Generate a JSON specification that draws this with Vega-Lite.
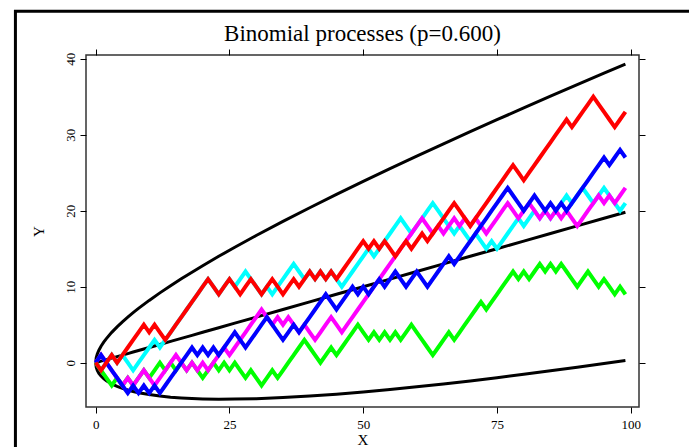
{
"$schema": "https://vega.github.io/schema/vega-lite/v6.json",
"width": 553, "height": 352,
"autosize": {"type": "none"},
"padding": {"left": 86, "top": 55, "right": 50, "bottom": 40},
"background": "white",
"title": {"text": "Binomial processes (p=0.600)", "anchor": "middle", "frame": "group", "offset": -54, "baseline": "alphabetic", "font": "Liberation Serif", "fontSize": 23, "fontWeight": "normal", "color": "black"},
"config": {"view": {"stroke": "#333333", "strokeWidth": 1.5}, "axis": {"grid": false, "domain": false}},
"datasets": {
"env": [
{"x":0,"u":0,"l":0,"m":0},{"x":0.1,"u":0.6397,"l":-0.5997,"m":0.02},{"x":0.3,"u":1.1333,"l":-1.0133,"m":0.06},{"x":0.6,"u":1.6379,"l":-1.3979,"m":0.12},{"x":1,"u":2.1596,"l":-1.7596,"m":0.2},{"x":1.5,"u":2.7,"l":-2.1,"m":0.3},{"x":2,"u":3.1713,"l":-2.3713,"m":0.4},{"x":3,"u":3.9941,"l":-2.7941,"m":0.6},{"x":4,"u":4.7192,"l":-3.1192,"m":0.8},{"x":5,"u":5.3818,"l":-3.3818,"m":1},{"x":6,"u":6.0,"l":-3.6,"m":1.2},{"x":7,"u":6.5846,"l":-3.7846,"m":1.4},{"x":8,"u":7.1426,"l":-3.9426,"m":1.6},{"x":10,"u":8.1968,"l":-4.1968,"m":2},{"x":12,"u":9.1882,"l":-4.3882,"m":2.4},{"x":14,"u":10.1321,"l":-4.5321,"m":2.8},{"x":16,"u":11.0384,"l":-4.6384,"m":3.2},{"x":18,"u":11.9138,"l":-4.7138,"m":3.6},{"x":20,"u":12.7636,"l":-4.7636,"m":4},{"x":23,"u":13.9979,"l":-4.7979,"m":4.6},{"x":26,"u":15.192,"l":-4.792,"m":5.2},{"x":30,"u":16.7331,"l":-4.7331,"m":6},{"x":35,"u":18.5931,"l":-4.5931,"m":7},{"x":40,"u":20.3935,"l":-4.3935,"m":8},{"x":45,"u":22.1453,"l":-4.1453,"m":9},{"x":50,"u":23.8564,"l":-3.8564,"m":10},{"x":55,"u":25.5327,"l":-3.5327,"m":11},{"x":60,"u":27.1789,"l":-3.1789,"m":12},{"x":65,"u":28.7987,"l":-2.7987,"m":13},{"x":70,"u":30.3951,"l":-2.3951,"m":14},{"x":75,"u":31.9706,"l":-1.9706,"m":15},{"x":80,"u":33.5271,"l":-1.5271,"m":16},{"x":85,"u":35.0665,"l":-1.0665,"m":17},{"x":90,"u":36.5903,"l":-0.5903,"m":18},{"x":95,"u":38.0997,"l":-0.0997,"m":19},{"x":99,"u":39.2977,"l":0.3023,"m":19.8}
],
"red": [
{"x":0,"y":0},{"x":1,"y":-1},{"x":2,"y":0},{"x":3,"y":1},{"x":4,"y":0},{"x":5,"y":1},{"x":6,"y":2},{"x":7,"y":3},{"x":8,"y":4},{"x":9,"y":5},
{"x":10,"y":4},{"x":11,"y":5},{"x":12,"y":4},{"x":13,"y":3},{"x":14,"y":4},{"x":15,"y":5},{"x":16,"y":6},{"x":17,"y":7},{"x":18,"y":8},{"x":19,"y":9},
{"x":20,"y":10},{"x":21,"y":11},{"x":22,"y":10},{"x":23,"y":9},{"x":24,"y":10},{"x":25,"y":11},{"x":26,"y":10},{"x":27,"y":9},{"x":28,"y":10},{"x":29,"y":11},
{"x":30,"y":10},{"x":31,"y":9},{"x":32,"y":10},{"x":33,"y":11},{"x":34,"y":10},{"x":35,"y":9},{"x":36,"y":10},{"x":37,"y":11},{"x":38,"y":10},{"x":39,"y":11},
{"x":40,"y":12},{"x":41,"y":11},{"x":42,"y":12},{"x":43,"y":11},{"x":44,"y":12},{"x":45,"y":11},{"x":46,"y":12},{"x":47,"y":13},{"x":48,"y":14},{"x":49,"y":15},
{"x":50,"y":16},{"x":51,"y":15},{"x":52,"y":16},{"x":53,"y":15},{"x":54,"y":16},{"x":55,"y":15},{"x":56,"y":14},{"x":57,"y":15},{"x":58,"y":16},{"x":59,"y":15},
{"x":60,"y":16},{"x":61,"y":17},{"x":62,"y":16},{"x":63,"y":17},{"x":64,"y":18},{"x":65,"y":19},{"x":66,"y":20},{"x":67,"y":21},{"x":68,"y":20},{"x":69,"y":19},
{"x":70,"y":18},{"x":71,"y":19},{"x":72,"y":20},{"x":73,"y":21},{"x":74,"y":22},{"x":75,"y":23},{"x":76,"y":24},{"x":77,"y":25},{"x":78,"y":26},{"x":79,"y":25},
{"x":80,"y":24},{"x":81,"y":25},{"x":82,"y":26},{"x":83,"y":27},{"x":84,"y":28},{"x":85,"y":29},{"x":86,"y":30},{"x":87,"y":31},{"x":88,"y":32},{"x":89,"y":31},
{"x":90,"y":32},{"x":91,"y":33},{"x":92,"y":34},{"x":93,"y":35},{"x":94,"y":34},{"x":95,"y":33},{"x":96,"y":32},{"x":97,"y":31},{"x":98,"y":32},{"x":99,"y":33}
],
"blue": [
{"x":0,"y":0},{"x":1,"y":1},{"x":2,"y":0},{"x":3,"y":-1},{"x":4,"y":-2},{"x":5,"y":-3},{"x":6,"y":-4},{"x":7,"y":-3},{"x":8,"y":-4},{"x":9,"y":-3},
{"x":10,"y":-4},{"x":11,"y":-3},{"x":12,"y":-4},{"x":13,"y":-3},{"x":14,"y":-2},{"x":15,"y":-1},{"x":16,"y":0},{"x":17,"y":1},{"x":18,"y":2},{"x":19,"y":1},
{"x":20,"y":2},{"x":21,"y":1},{"x":22,"y":2},{"x":23,"y":1},{"x":24,"y":2},{"x":25,"y":3},{"x":26,"y":4},{"x":27,"y":3},{"x":28,"y":2},{"x":29,"y":3},
{"x":30,"y":4},{"x":31,"y":5},{"x":32,"y":6},{"x":33,"y":5},{"x":34,"y":4},{"x":35,"y":3},{"x":36,"y":4},{"x":37,"y":5},{"x":38,"y":4},{"x":39,"y":5},
{"x":40,"y":6},{"x":41,"y":7},{"x":42,"y":8},{"x":43,"y":9},{"x":44,"y":8},{"x":45,"y":7},{"x":46,"y":8},{"x":47,"y":9},{"x":48,"y":10},{"x":49,"y":9},
{"x":50,"y":10},{"x":51,"y":9},{"x":52,"y":10},{"x":53,"y":11},{"x":54,"y":10},{"x":55,"y":11},{"x":56,"y":12},{"x":57,"y":11},{"x":58,"y":10},{"x":59,"y":11},
{"x":60,"y":12},{"x":61,"y":11},{"x":62,"y":10},{"x":63,"y":11},{"x":64,"y":12},{"x":65,"y":13},{"x":66,"y":14},{"x":67,"y":13},{"x":68,"y":14},{"x":69,"y":15},
{"x":70,"y":16},{"x":71,"y":17},{"x":72,"y":18},{"x":73,"y":19},{"x":74,"y":20},{"x":75,"y":21},{"x":76,"y":22},{"x":77,"y":23},{"x":78,"y":22},{"x":79,"y":21},
{"x":80,"y":20},{"x":81,"y":21},{"x":82,"y":22},{"x":83,"y":21},{"x":84,"y":20},{"x":85,"y":21},{"x":86,"y":20},{"x":87,"y":21},{"x":88,"y":20},{"x":89,"y":21},
{"x":90,"y":22},{"x":91,"y":23},{"x":92,"y":24},{"x":93,"y":25},{"x":94,"y":26},{"x":95,"y":27},{"x":96,"y":26},{"x":97,"y":27},{"x":98,"y":28},{"x":99,"y":27}
],
"cyan": [
{"x":0,"y":0},{"x":1,"y":-1},{"x":2,"y":0},{"x":3,"y":1},{"x":4,"y":0},{"x":5,"y":1},{"x":6,"y":0},{"x":7,"y":-1},{"x":8,"y":0},{"x":9,"y":1},
{"x":10,"y":2},{"x":11,"y":3},{"x":12,"y":2},{"x":13,"y":3},{"x":14,"y":4},{"x":15,"y":5},{"x":16,"y":6},{"x":17,"y":7},{"x":18,"y":8},{"x":19,"y":9},
{"x":20,"y":10},{"x":21,"y":11},{"x":22,"y":10},{"x":23,"y":9},{"x":24,"y":10},{"x":25,"y":11},{"x":26,"y":10},{"x":27,"y":11},{"x":28,"y":12},{"x":29,"y":11},
{"x":30,"y":10},{"x":31,"y":9},{"x":32,"y":10},{"x":33,"y":9},{"x":34,"y":10},{"x":35,"y":11},{"x":36,"y":12},{"x":37,"y":13},{"x":38,"y":12},{"x":39,"y":11},
{"x":40,"y":12},{"x":41,"y":11},{"x":42,"y":12},{"x":43,"y":11},{"x":44,"y":12},{"x":45,"y":11},{"x":46,"y":10},{"x":47,"y":11},{"x":48,"y":12},{"x":49,"y":13},
{"x":50,"y":14},{"x":51,"y":15},{"x":52,"y":14},{"x":53,"y":15},{"x":54,"y":16},{"x":55,"y":17},{"x":56,"y":18},{"x":57,"y":19},{"x":58,"y":18},{"x":59,"y":17},
{"x":60,"y":18},{"x":61,"y":19},{"x":62,"y":20},{"x":63,"y":21},{"x":64,"y":20},{"x":65,"y":19},{"x":66,"y":18},{"x":67,"y":17},{"x":68,"y":18},{"x":69,"y":17},
{"x":70,"y":16},{"x":71,"y":17},{"x":72,"y":16},{"x":73,"y":15},{"x":74,"y":16},{"x":75,"y":15},{"x":76,"y":16},{"x":77,"y":17},{"x":78,"y":18},{"x":79,"y":19},
{"x":80,"y":18},{"x":81,"y":19},{"x":82,"y":20},{"x":83,"y":19},{"x":84,"y":20},{"x":85,"y":19},{"x":86,"y":20},{"x":87,"y":21},{"x":88,"y":22},{"x":89,"y":21},
{"x":90,"y":22},{"x":91,"y":23},{"x":92,"y":22},{"x":93,"y":21},{"x":94,"y":22},{"x":95,"y":23},{"x":96,"y":22},{"x":97,"y":21},{"x":98,"y":20},{"x":99,"y":21}
],
"magenta": [
{"x":0,"y":0},{"x":1,"y":1},{"x":2,"y":0},{"x":3,"y":-1},{"x":4,"y":-2},{"x":5,"y":-3},{"x":6,"y":-2},{"x":7,"y":-3},{"x":8,"y":-2},{"x":9,"y":-1},
{"x":10,"y":-2},{"x":11,"y":-3},{"x":12,"y":-2},{"x":13,"y":-1},{"x":14,"y":0},{"x":15,"y":1},{"x":16,"y":0},{"x":17,"y":-1},{"x":18,"y":0},{"x":19,"y":-1},
{"x":20,"y":0},{"x":21,"y":-1},{"x":22,"y":0},{"x":23,"y":1},{"x":24,"y":2},{"x":25,"y":1},{"x":26,"y":2},{"x":27,"y":3},{"x":28,"y":4},{"x":29,"y":5},
{"x":30,"y":6},{"x":31,"y":7},{"x":32,"y":6},{"x":33,"y":5},{"x":34,"y":6},{"x":35,"y":5},{"x":36,"y":6},{"x":37,"y":5},{"x":38,"y":4},{"x":39,"y":5},
{"x":40,"y":4},{"x":41,"y":3},{"x":42,"y":4},{"x":43,"y":5},{"x":44,"y":6},{"x":45,"y":5},{"x":46,"y":4},{"x":47,"y":5},{"x":48,"y":6},{"x":49,"y":7},
{"x":50,"y":8},{"x":51,"y":9},{"x":52,"y":10},{"x":53,"y":11},{"x":54,"y":12},{"x":55,"y":13},{"x":56,"y":14},{"x":57,"y":15},{"x":58,"y":16},{"x":59,"y":17},
{"x":60,"y":18},{"x":61,"y":19},{"x":62,"y":18},{"x":63,"y":17},{"x":64,"y":18},{"x":65,"y":17},{"x":66,"y":18},{"x":67,"y":19},{"x":68,"y":18},{"x":69,"y":19},
{"x":70,"y":18},{"x":71,"y":19},{"x":72,"y":18},{"x":73,"y":17},{"x":74,"y":18},{"x":75,"y":19},{"x":76,"y":20},{"x":77,"y":21},{"x":78,"y":20},{"x":79,"y":19},
{"x":80,"y":20},{"x":81,"y":21},{"x":82,"y":20},{"x":83,"y":19},{"x":84,"y":20},{"x":85,"y":19},{"x":86,"y":20},{"x":87,"y":19},{"x":88,"y":20},{"x":89,"y":19},
{"x":90,"y":18},{"x":91,"y":19},{"x":92,"y":20},{"x":93,"y":21},{"x":94,"y":22},{"x":95,"y":21},{"x":96,"y":22},{"x":97,"y":21},{"x":98,"y":22},{"x":99,"y":23}
],
"green": [
{"x":0,"y":0},{"x":1,"y":-1},{"x":2,"y":-2},{"x":3,"y":-3},{"x":4,"y":-2},{"x":5,"y":-3},{"x":6,"y":-2},{"x":7,"y":-3},{"x":8,"y":-2},{"x":9,"y":-1},
{"x":10,"y":-2},{"x":11,"y":-1},{"x":12,"y":0},{"x":13,"y":-1},{"x":14,"y":0},{"x":15,"y":-1},{"x":16,"y":0},{"x":17,"y":-1},{"x":18,"y":0},{"x":19,"y":-1},
{"x":20,"y":-2},{"x":21,"y":-1},{"x":22,"y":0},{"x":23,"y":-1},{"x":24,"y":0},{"x":25,"y":-1},{"x":26,"y":0},{"x":27,"y":-1},{"x":28,"y":-2},{"x":29,"y":-1},
{"x":30,"y":-2},{"x":31,"y":-3},{"x":32,"y":-2},{"x":33,"y":-1},{"x":34,"y":-2},{"x":35,"y":-1},{"x":36,"y":0},{"x":37,"y":1},{"x":38,"y":2},{"x":39,"y":3},
{"x":40,"y":2},{"x":41,"y":1},{"x":42,"y":0},{"x":43,"y":1},{"x":44,"y":2},{"x":45,"y":1},{"x":46,"y":2},{"x":47,"y":3},{"x":48,"y":4},{"x":49,"y":5},
{"x":50,"y":4},{"x":51,"y":3},{"x":52,"y":4},{"x":53,"y":3},{"x":54,"y":4},{"x":55,"y":3},{"x":56,"y":4},{"x":57,"y":3},{"x":58,"y":4},{"x":59,"y":5},
{"x":60,"y":4},{"x":61,"y":3},{"x":62,"y":2},{"x":63,"y":1},{"x":64,"y":2},{"x":65,"y":3},{"x":66,"y":4},{"x":67,"y":3},{"x":68,"y":4},{"x":69,"y":5},
{"x":70,"y":6},{"x":71,"y":7},{"x":72,"y":8},{"x":73,"y":7},{"x":74,"y":8},{"x":75,"y":9},{"x":76,"y":10},{"x":77,"y":11},{"x":78,"y":12},{"x":79,"y":11},
{"x":80,"y":12},{"x":81,"y":11},{"x":82,"y":12},{"x":83,"y":13},{"x":84,"y":12},{"x":85,"y":13},{"x":86,"y":12},{"x":87,"y":13},{"x":88,"y":12},{"x":89,"y":11},
{"x":90,"y":10},{"x":91,"y":11},{"x":92,"y":12},{"x":93,"y":11},{"x":94,"y":10},{"x":95,"y":11},{"x":96,"y":10},{"x":97,"y":9},{"x":98,"y":10},{"x":99,"y":9}
]
},
"layer": [
{"data": {"values": [{}]},
 "mark": {"type": "rect", "fill": null, "fillOpacity": 0, "stroke": "black", "strokeWidth": 3, "clip": false},
 "encoding": {
  "x": {"datum": -15.0, "type": "quantitative", "scale": {"domain": [-1.81, 101.54], "nice": false, "zero": false}, "axis": null},
  "x2": {"datum": 125},
  "y": {"datum": 46.24, "type": "quantitative", "scale": {"domain": [-5.83, 40.49], "nice": false, "zero": false}, "axis": null},
  "y2": {"datum": -25}}},
{"data": {"name": "env"},
 "mark": {"type": "line", "color": "black", "strokeWidth": 3},
 "encoding": {
  "x": {"field": "x", "type": "quantitative", "scale": {"domain": [-1.81, 101.54], "nice": false, "zero": false},
        "axis": {"orient": "bottom", "values": [0, 25, 50, 75, 100], "title": "X", "labelFont": "Liberation Serif", "labelFontSize": 13, "labelColor": "black", "labelPadding": 5, "tickSize": 6, "tickColor": "black", "tickWidth": 1, "domain": false, "grid": false, "titleFont": "Liberation Serif", "titleFontSize": 15, "titleFontWeight": "normal", "titleColor": "black", "titleY": 37, "titleBaseline": "alphabetic"}},
  "y": {"field": "u", "type": "quantitative", "scale": {"domain": [-5.83, 40.49], "nice": false, "zero": false},
        "axis": {"orient": "left", "values": [0, 10, 20, 30, 40], "title": "Y", "labelFont": "Liberation Serif", "labelFontSize": 13, "labelColor": "black", "labelAngle": -90, "labelAlign": "center", "labelBaseline": "bottom", "labelPadding": 3, "tickSize": 6, "tickColor": "black", "tickWidth": 1, "domain": false, "grid": false, "titleFont": "Liberation Serif", "titleFontSize": 15, "titleFontWeight": "normal", "titleColor": "black", "titleAngle": -90, "titleX": -48, "titleY": 176, "titleBaseline": "middle", "titleAlign": "center"}}}},
{"data": {"name": "env"},
 "mark": {"type": "line", "color": "black", "strokeWidth": 3},
 "encoding": {
  "x": {"field": "x", "type": "quantitative", "scale": {"domain": [-1.81, 101.54], "nice": false, "zero": false}, "axis": null},
  "y": {"field": "l", "type": "quantitative", "scale": {"domain": [-5.83, 40.49], "nice": false, "zero": false}, "axis": null}}},
{"data": {"name": "env"},
 "mark": {"type": "line", "color": "black", "strokeWidth": 3},
 "encoding": {
  "x": {"field": "x", "type": "quantitative", "scale": {"domain": [-1.81, 101.54], "nice": false, "zero": false}, "axis": null},
  "y": {"field": "m", "type": "quantitative", "scale": {"domain": [-5.83, 40.49], "nice": false, "zero": false}, "axis": null}}},
{"data": {"name": "cyan"},
 "mark": {"type": "line", "color": "#00ffff", "strokeWidth": 4},
 "encoding": {
  "x": {"field": "x", "type": "quantitative", "scale": {"domain": [-1.81, 101.54], "nice": false, "zero": false}, "axis": null},
  "y": {"field": "y", "type": "quantitative", "scale": {"domain": [-5.83, 40.49], "nice": false, "zero": false}, "axis": null}}},
{"data": {"name": "green"},
 "mark": {"type": "line", "color": "#00ff00", "strokeWidth": 4},
 "encoding": {
  "x": {"field": "x", "type": "quantitative", "scale": {"domain": [-1.81, 101.54], "nice": false, "zero": false}, "axis": null},
  "y": {"field": "y", "type": "quantitative", "scale": {"domain": [-5.83, 40.49], "nice": false, "zero": false}, "axis": null}}},
{"data": {"name": "magenta"},
 "mark": {"type": "line", "color": "#ff00ff", "strokeWidth": 4},
 "encoding": {
  "x": {"field": "x", "type": "quantitative", "scale": {"domain": [-1.81, 101.54], "nice": false, "zero": false}, "axis": null},
  "y": {"field": "y", "type": "quantitative", "scale": {"domain": [-5.83, 40.49], "nice": false, "zero": false}, "axis": null}}},
{"data": {"name": "blue"},
 "mark": {"type": "line", "color": "#0000ff", "strokeWidth": 4},
 "encoding": {
  "x": {"field": "x", "type": "quantitative", "scale": {"domain": [-1.81, 101.54], "nice": false, "zero": false}, "axis": null},
  "y": {"field": "y", "type": "quantitative", "scale": {"domain": [-5.83, 40.49], "nice": false, "zero": false}, "axis": null}}},
{"data": {"name": "red"},
 "mark": {"type": "line", "color": "#ff0000", "strokeWidth": 4},
 "encoding": {
  "x": {"field": "x", "type": "quantitative", "scale": {"domain": [-1.81, 101.54], "nice": false, "zero": false}, "axis": null},
  "y": {"field": "y", "type": "quantitative", "scale": {"domain": [-5.83, 40.49], "nice": false, "zero": false}, "axis": null}}},
{"data": {"name": "env"},
 "mark": {"type": "line", "opacity": 0},
 "encoding": {
  "x": {"field": "x", "type": "quantitative", "scale": {"domain": [-1.81, 101.54], "nice": false, "zero": false},
        "axis": {"orient": "top", "values": [0, 25, 50, 75, 100], "labels": false, "title": null, "tickSize": 6, "tickColor": "black", "tickWidth": 1, "domain": false, "grid": false}},
  "y": {"field": "m", "type": "quantitative", "scale": {"domain": [-5.83, 40.49], "nice": false, "zero": false},
        "axis": {"orient": "right", "values": [0, 10, 20, 30, 40], "labels": false, "title": null, "tickSize": 6, "tickColor": "black", "tickWidth": 1, "domain": false, "grid": false}}}}
],
"resolve": {"axis": {"x": "independent", "y": "independent"}}
}
